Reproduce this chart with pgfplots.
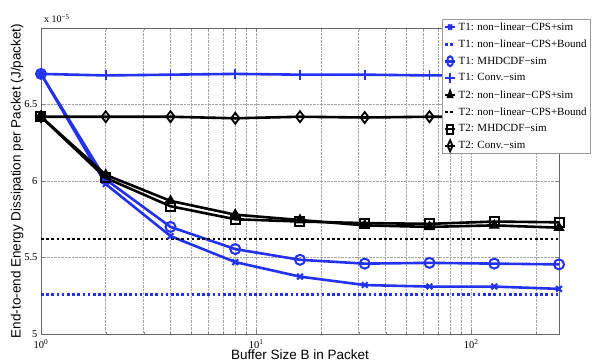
\documentclass[border=0pt]{standalone}
\usepackage{pgfplots}
\pgfplotsset{compat=1.18}
\usetikzlibrary{calc}
\usepackage{fontspec}
\setmainfont{Liberation Serif}
\newfontfamily\arial{Liberation Sans}
\definecolor{mblue}{RGB}{35,50,240}
\begin{document}
\begin{tikzpicture}
\begin{axis}[name=ax,
  scale only axis, width=518pt, height=306pt,
  xmode=log, xmin=1, xmax=256, ymin=5, ymax=7,
  xtick={1,10,100}, xticklabels={10\textsuperscript{0},10\textsuperscript{1},10\textsuperscript{2}},
  ytick={5,5.5,6,6.5}, yticklabels={5,5.5,6,6.5},
  minor xtick={2,3,4,5,6,7,8,9,20,30,40,50,60,70,80,90,200},
  tick label style={font=\fontsize{10.5}{12}\selectfont},
  xticklabel style={yshift=-2pt},
  xmajorgrids, xminorgrids, ymajorgrids,
  major grid style={gray!70, densely dotted, line width=0.5pt},
  minor grid style={gray!70, densely dotted, line width=0.5pt},
  tick align=inside, major tick length=4pt, minor tick length=2pt,
  axis line style={gray!80!black, line width=0.6pt},
  xlabel={\arial\fontsize{13.5}{16}\selectfont Buffer Size B in Packet},
  ylabel={\arial\fontsize{13.5}{16}\selectfont End-to-end Energy Dissipation per Packet (J/packet)},
  xlabel style={yshift=6pt},
  ylabel style={yshift=-6pt},
  legend cell align=left,
  legend style={at={(0.774,1.03)}, anchor=north west,
    font=\fontsize{11}{13}\selectfont, draw=gray!80, line width=0.5pt,
    inner sep=1.5pt, row sep=4pt, fill=white},
  legend image post style={xscale=0.6},
]
\addplot[mblue, line width=2.6pt, mark=x, mark size=4pt, mark options={line width=2pt}] coordinates {
(1,6.70) (2,5.98) (4,5.64) (8,5.47) (16,5.375) (32,5.32) (64,5.31) (128,5.31) (256,5.295)};
\addlegendentry{T1: non\textminus linear\textminus CPS+sim}
\addplot[mblue, line width=2.6pt, dash pattern=on 2.6pt off 2.6pt] coordinates {(1,5.26) (256,5.26)};
\addlegendentry{T1: non\textminus linear\textminus CPS+Bound}
\addplot[mblue, line width=2.6pt, mark=o, mark size=5pt, mark options={solid, line width=2pt}] coordinates {
(1,6.70) (2,6.01) (4,5.70) (8,5.555) (16,5.485) (32,5.46) (64,5.465) (128,5.46) (256,5.455)};
\addlegendentry{T1: MHDCDF\textminus sim}
\addplot[mblue, line width=2.6pt, mark=+, mark size=5pt, mark options={line width=1.8pt}] coordinates {
(1,6.70) (2,6.69) (4,6.695) (8,6.70) (16,6.695) (32,6.695) (64,6.69) (128,6.69) (256,6.69)};
\addlegendentry{T1: Conv.\textminus sim}
\addplot[black, line width=2.6pt, mark=triangle*, mark size=5.5pt, mark options={line width=1pt}] coordinates {
(1,6.42) (2,6.04) (4,5.87) (8,5.78) (16,5.745) (32,5.71) (64,5.70) (128,5.71) (256,5.695)};
\addlegendentry{T2: non\textminus linear\textminus CPS+sim}
\addplot[black, line width=2.6pt, dash pattern=on 2.6pt off 2.6pt] coordinates {(1,5.62) (256,5.62)};
\addlegendentry{T2: non\textminus linear\textminus CPS+Bound}
\addplot[black, line width=2.6pt, mark=square, mark size=4.5pt, mark options={line width=2pt}] coordinates {
(1,6.42) (2,6.02) (4,5.835) (8,5.75) (16,5.735) (32,5.725) (64,5.72) (128,5.735) (256,5.73)};
\addlegendentry{T2: MHDCDF\textminus sim}
\addplot[black, line width=2.6pt, mark=diamond, mark size=5.5pt, mark options={line width=1.8pt}] coordinates {
(1,6.42) (2,6.42) (4,6.42) (8,6.41) (16,6.42) (32,6.415) (64,6.42) (128,6.42) (256,6.43)};
\addlegendentry{T2: Conv.\textminus sim}
\end{axis}
\node[anchor=south west, font=\fontsize{10}{12}\selectfont, inner sep=1pt] at ($(ax.north west)+(2pt,4pt)$) {x 10\textsuperscript{\textminus 5}};
\pgfresetboundingbox
\path[use as bounding box] ($(ax.south west)+(-41pt,-28pt)$) rectangle ($(ax.north east)+(33pt,28pt)$);
\end{tikzpicture}
\end{document}
